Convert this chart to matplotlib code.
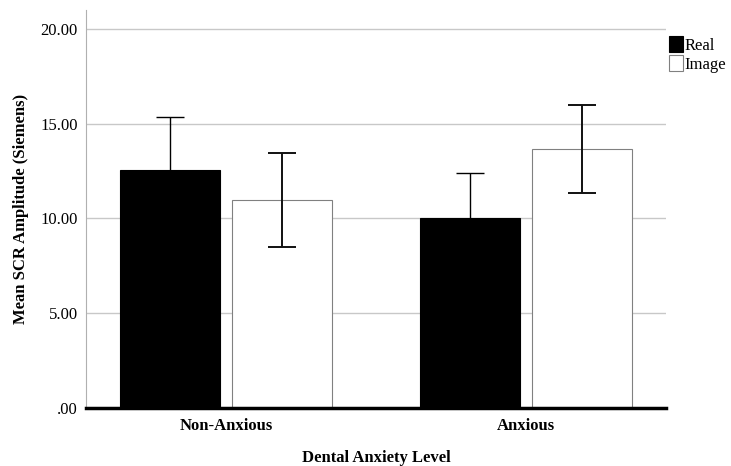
import matplotlib.pyplot as plt
import numpy as np

plt.rcParams['font.family'] = ['Liberation Serif', 'DejaVu Serif']

groups = ['Non-Anxious', 'Anxious']
real_mean = [12.56, 10.03]
real_err = [2.80, 2.37]
image_mean = [10.98, 13.67]
image_err = [2.50, 2.33]

fig = plt.figure(figsize=(7.31, 4.66), dpi=100)
ax = fig.add_axes([0.1176, 0.1245, 0.7934, 0.854])

x = np.arange(len(groups))
w = 0.333
off = 0.187

ax.yaxis.grid(True, color='#c8c8c8', linewidth=1)
ax.set_axisbelow(True)

ax.bar(x - off, real_mean, w, color='black', edgecolor='black', linewidth=0.8,
       label='Real', zorder=2)
ax.bar(x + off, image_mean, w, color='white', edgecolor='#808080', linewidth=0.8,
       label='Image', zorder=2)
# whiskers on the black bars are black, so only the upper half shows
ax.errorbar(x - off, real_mean, yerr=real_err, fmt='none', ecolor='black',
            elinewidth=1, capsize=10, capthick=1, zorder=3)
ax.errorbar(x + off, image_mean, yerr=image_err, fmt='none', ecolor='#111111',
            elinewidth=1.4, capsize=10, capthick=1.4, zorder=3)

ax.set_xlim(-0.4667, 1.4667)
ax.set_ylim(0, 21)
ax.set_yticks([0, 5, 10, 15, 20])
ax.set_yticklabels(['.00', '5.00', '10.00', '15.00', '20.00'], fontsize=12)
ax.set_xticks(x)
ax.set_xticklabels(groups, fontsize=12, fontweight='bold')
ax.tick_params(axis='y', length=0, pad=6)
ax.tick_params(axis='x', length=0, pad=7)

for s in ['top', 'right']:
    ax.spines[s].set_visible(False)
ax.spines['left'].set_color('#b0b0b0')
ax.spines['bottom'].set_linewidth(2.5)
ax.spines['bottom'].set_zorder(4)

ax.set_ylabel('Mean SCR Amplitude (Siemens)', fontsize=12, fontweight='bold', labelpad=8)
ax.set_xlabel('Dental Anxiety Level', fontsize=12, fontweight='bold', labelpad=12)

ax.legend(loc='upper left', bbox_to_anchor=(1.005, 0.935), frameon=False,
          fontsize=12, handlelength=0.85, handleheight=1.1, handletextpad=0.1,
          labelspacing=0.1, borderaxespad=0, borderpad=0)

fig.savefig('out.png', dpi=100)
